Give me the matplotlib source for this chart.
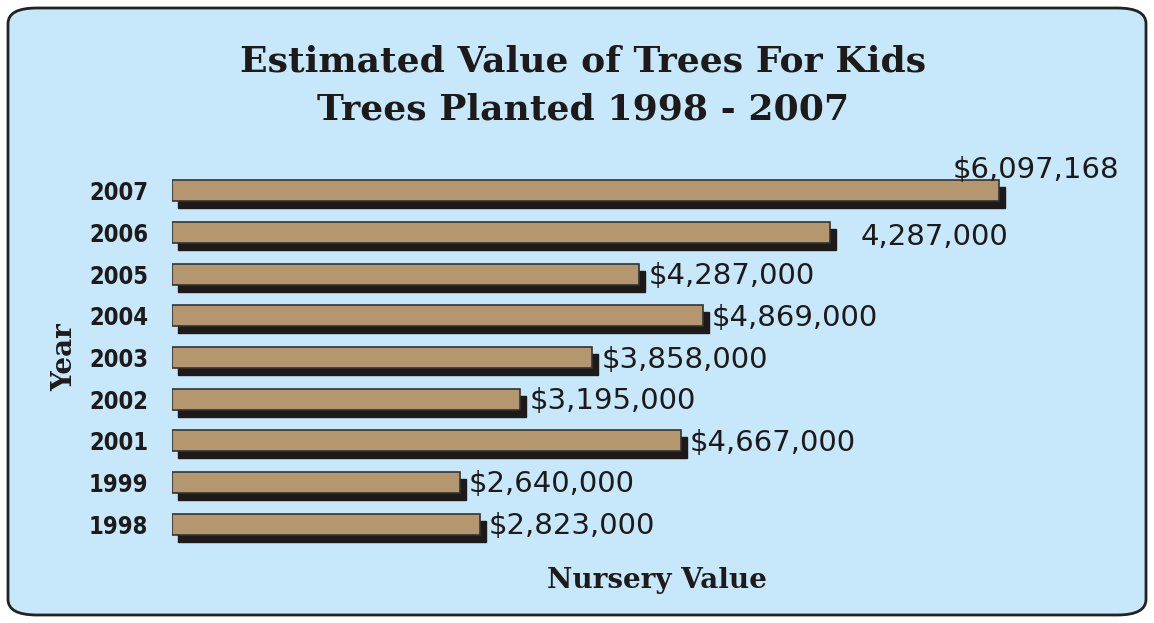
import matplotlib
matplotlib.use("Agg")
from matplotlib import pyplot as plt
from matplotlib.patches import FancyBboxPatch

years = ['1998', '1999', '2001', '2002', '2003', '2004', '2005', '2006', '2007']
# bar lengths as drawn in the picture (2006/2007 bars do not match their labels)
bar_values = [2823000, 2640000, 4667000, 3195000, 3858000, 4869000, 4287000, 6040000, 7590000]
value_labels = ['$2,823,000', '$2,640,000', '$4,667,000', '$3,195,000', '$3,858,000',
                '$4,869,000', '$4,287,000', '4,287,000', '$6,097,168']

W, H = 1154, 623
fig = plt.figure(figsize=(W / 100, H / 100), dpi=100)
fig.patch.set_facecolor('white')

# rounded light blue panel
panel = FancyBboxPatch((8 / W, 8 / H), (W - 16) / W, (H - 16) / H,
                       boxstyle='round,pad=0,rounding_size=0.025',
                       transform=fig.transFigure, facecolor='#c6e8fa',
                       edgecolor='#222222', linewidth=2, zorder=-5)
fig.patches.append(panel)

# axes placed in pixel terms
ax_left, ax_right = 172, 1142
ax_top, ax_bottom = 170, 545
ax = fig.add_axes([ax_left / W, 1 - ax_bottom / H, (ax_right - ax_left) / W, (ax_bottom - ax_top) / H])
ax.set_facecolor('none')
ax.set_zorder(2)

xmax = 8.9e6
px = xmax / (ax_right - ax_left)          # dollars per pixel
row = (ax_bottom - ax_top) / len(years)   # pixels per row

pos = list(range(len(years)))
sdx = 6 * px
sdy = 7 / row

# drop shadow then the bar face
ax.barh([p - sdy for p in pos], bar_values, left=sdx, height=0.5,
        color='#1e1a1a', edgecolor='#1e1a1a', zorder=2)
ax.barh(pos, bar_values, height=0.5, color='#b4966f', edgecolor='#333333',
        linewidth=1.2, zorder=3)

label_font = dict(family=['Liberation Sans Narrow', 'DejaVu Sans'], fontsize=21, color='#1e1a1a')
for p, v, lab in zip(pos, bar_values, value_labels):
    if years[p] == '2007':
        ax.annotate(lab, (v, p), xytext=(-47, 21), textcoords='offset pixels',
                    ha='left', va='center', zorder=5, **label_font)
    elif years[p] == '2006':
        ax.annotate(lab, (v, p), xytext=(30, -4), textcoords='offset pixels',
                    ha='left', va='center', zorder=5, **label_font)
    else:
        ax.annotate(lab, (v, p), xytext=(9, -2), textcoords='offset pixels',
                    ha='left', va='center', zorder=5, **label_font)

ax.set_xlim(0, xmax)
ax.set_ylim(-0.5, len(years) - 0.5)
ax.set_xticks([])
ax.set_yticks(pos)
ax.set_yticklabels(years, family='DejaVu Sans', fontstretch='condensed',
                   fontsize=17, fontweight='bold', color='#1e1a1a')
ax.tick_params(axis='y', length=0, pad=17)
for s in ax.spines.values():
    s.set_visible(False)

title_font = dict(family='DejaVu Serif', fontweight='bold', color='#1e1a1a', ha='center', va='center')
fig.text(583 / W, 1 - 62 / H, 'Estimated Value of Trees For Kids', fontsize=26, **title_font)
fig.text(583 / W, 1 - 110 / H, 'Trees Planted 1998 - 2007', fontsize=26, **title_font)
fig.text(657 / W, 1 - 580 / H, 'Nursery Value', fontsize=20, **title_font)
fig.text(65 / W, 1 - 357 / H, 'Year', fontsize=20, rotation=90, **title_font)

fig.savefig('out.png', dpi=100)
